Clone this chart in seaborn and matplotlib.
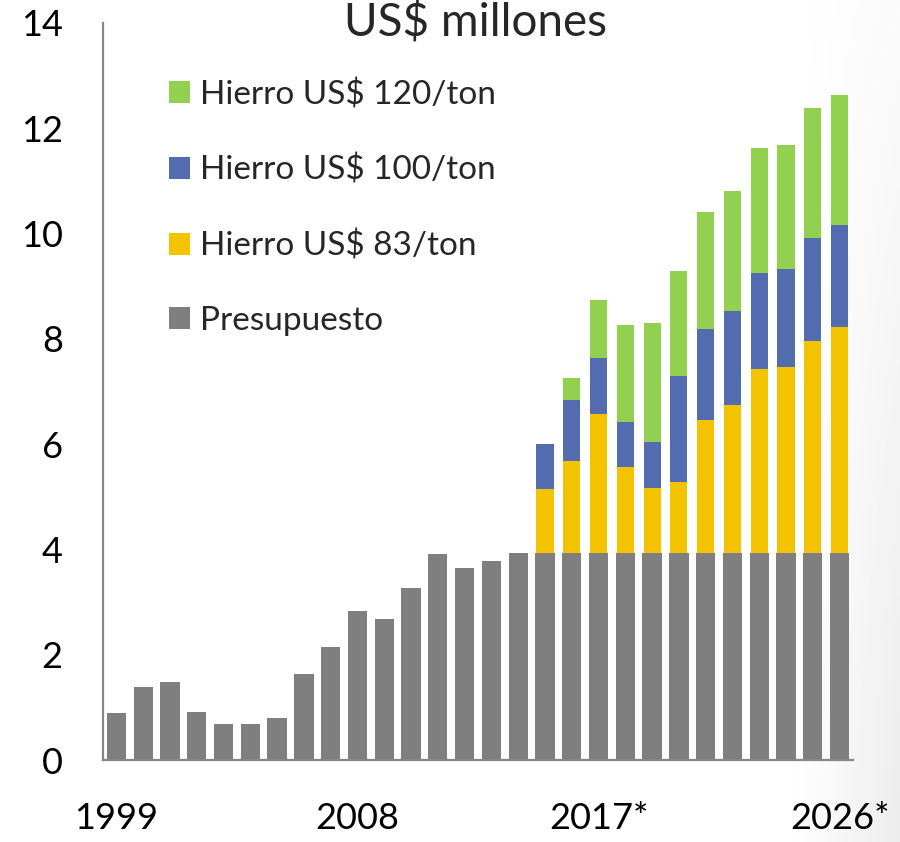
import numpy as np
import pandas as pd
import matplotlib
matplotlib.use("Agg")
import matplotlib.pyplot as plt
import seaborn as sns
from matplotlib.patches import Patch

# ---------------- data ----------------
years = [str(y) for y in range(1999, 2027)]
tick_positions = [0, 9, 18, 27]
tick_labels = ["1999", "2008", "2017*", "2026*"]

presupuesto = [0.89, 1.39, 1.48, 0.91, 0.69, 0.68, 0.80, 1.63, 2.15, 2.83,
               2.67, 3.26, 3.92, 3.64, 3.78, 3.94,
               3.93, 3.93, 3.93, 3.93, 3.93, 3.93, 3.93, 3.93, 3.93, 3.93, 3.93, 3.93]
hierro_83 = [0] * 16 + [1.21, 1.75, 2.64, 1.64, 1.24, 1.35, 2.52, 2.82, 3.50, 3.54, 4.03, 4.29]
hierro_100 = [0] * 16 + [0.86, 1.16, 1.07, 0.86, 0.88, 2.01, 1.73, 1.77, 1.83, 1.86, 1.96, 1.95]
hierro_120 = [0] * 16 + [0.00, 0.42, 1.10, 1.83, 2.25, 1.99, 2.23, 2.29, 2.36, 2.35, 2.47, 2.47]

series_names = ["Hierro US$ 120/ton", "Hierro US$ 100/ton", "Hierro US$ 83/ton", "Presupuesto"]
colors = {"Presupuesto": "#7F7F7F", "Hierro US$ 83/ton": "#F4C300",
          "Hierro US$ 100/ton": "#526CAF", "Hierro US$ 120/ton": "#92D050"}

df = pd.DataFrame({"year": years, "Presupuesto": presupuesto,
                   "Hierro US$ 83/ton": hierro_83, "Hierro US$ 100/ton": hierro_100,
                   "Hierro US$ 120/ton": hierro_120})
df["c0"] = df["Presupuesto"]
df["c1"] = df["c0"] + df["Hierro US$ 83/ton"]
df["c2"] = df["c1"] + df["Hierro US$ 100/ton"]
df["c3"] = df["c2"] + df["Hierro US$ 120/ton"]

# ---------------- style ----------------
sns.set_theme(style="white")
plt.rcParams["font.family"] = ["Lato", "DejaVu Sans"]

W, H = 900, 842
fig = plt.figure(figsize=(9, 8.42), dpi=100)

# subtle background shading at right edge
bg = fig.add_axes([0, 0, 1, 1], zorder=-10)
xx = np.linspace(0, 1, 300)
yy = np.linspace(0, 1, 280)
X, Y = np.meshgrid(xx, yy)
shade = np.clip((X - 0.88) / 0.12, 0, 1) * (0.25 + 0.75 * Y)
img = 1 - 0.075 * shade
bg.imshow(img, cmap="gray", vmin=0, vmax=1, extent=[0, 1, 0, 1], origin="upper", aspect="auto")
bg.axis("off")

ax = fig.add_axes([103 / W, 1 - 760 / H, 750 / W, 737 / H])

layers = [("c3", "Hierro US$ 120/ton", 0.64), ("c2", "Hierro US$ 100/ton", 0.64),
          ("c1", "Hierro US$ 83/ton", 0.64), ("c0", "Presupuesto", 0.72)]
for col, name, w in layers:
    sns.barplot(data=df, x="year", y=col, order=years, color=colors[name],
                saturation=1, width=w, linewidth=0, ax=ax)

ax.set_xlim(-0.5, 27.5)
ax.set_ylim(0, 14)
ax.set_yticks(range(0, 15, 2))
ax.set_xticks(tick_positions)
ax.set_xticklabels(tick_labels)
ax.set_xlabel("")
ax.set_ylabel("")
ax.tick_params(axis="both", length=0, labelsize=26, colors="black")
ax.tick_params(axis="y", pad=29)
ax.tick_params(axis="x", pad=30)
for s in ["top", "right"]:
    ax.spines[s].set_visible(False)
for s in ["left", "bottom"]:
    ax.spines[s].set_color("#868686")
    ax.spines[s].set_linewidth(1.6)
ax.set_facecolor("none")

fig.text(475 / W, 1 - 22 / H, "US$ millones", ha="center", va="center", fontsize=33)

handles = [Patch(facecolor=colors[n], edgecolor="none", label=n) for n in series_names]
fig.legend(handles=handles, loc="upper left", bbox_to_anchor=(169 / W, 1 - 79 / H),
           frameon=False, fontsize=24, handlelength=0.63, handleheight=0.63,
           handletextpad=0.3, labelspacing=1.34, borderpad=0, borderaxespad=0)

fig.savefig("out.png", dpi=100)
